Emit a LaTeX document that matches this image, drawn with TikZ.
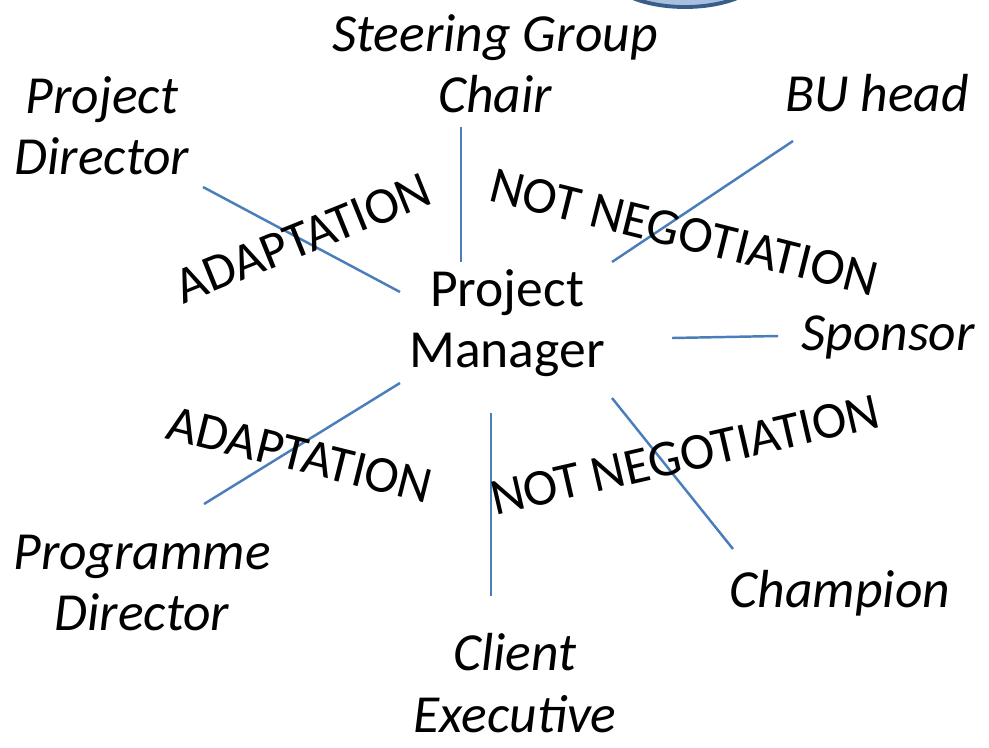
\documentclass[tikz,border=0pt]{standalone}
\usepackage{fontspec}
\setmainfont{Carlito}
\usepackage{tikz}

\definecolor{linkblue}{HTML}{4A7EBB}
\definecolor{ringblue}{HTML}{385D8A}
\definecolor{ringfill}{HTML}{A7C0E0}

\begin{document}
\begin{tikzpicture}[x=0.02cm, y=-0.02cm,
    role/.style={font=\fontsize{30.5}{35}\selectfont\itshape, align=center, inner sep=0pt},
    pm/.style={font=\fontsize{30.5}{35}\selectfont, align=center, inner sep=0pt},
    tag/.style={font=\fontsize{29.5}{34}\selectfont, inner sep=0pt},
    link/.style={linkblue, line width=1.4pt}]
            \useasboundingbox (0,0) rectangle (989,747);

            % Ring cut off at the top
            \begin{scope}
                \clip (0,0) rectangle (989,747);
                \filldraw[fill=ringfill, draw=ringblue, line width=2.2pt] (685,-30) ellipse (80 and 37);
            \end{scope}

            % Define line ends
            \coordinate (PD_1) at (203,187);
            \coordinate (PD_2) at (400,292);
            \coordinate (SG_1) at (461,127);
            \coordinate (SG_2) at (461,262);
            \coordinate (BU_1) at (793,141);
            \coordinate (BU_2) at (612,262);
            \coordinate (SP_1) at (778,336);
            \coordinate (SP_2) at (672,338);
            \coordinate (CH_1) at (733,549);
            \coordinate (CH_2) at (612,398);
            \coordinate (CE_1) at (491,596);
            \coordinate (CE_2) at (491,413);
            \coordinate (PG_1) at (204,504);
            \coordinate (PG_2) at (400,383);

            % Draw links
            \draw[link] (PD_1) -- (PD_2);
            \draw[link] (SG_1) -- (SG_2);
            \draw[link] (BU_1) -- (BU_2);
            \draw[link] (SP_1) -- (SP_2);
            \draw[link] (CH_1) -- (CH_2);
            \draw[link] (CE_1) -- (CE_2);
            \draw[link] (PG_1) -- (PG_2);

            % Add roles
            \node[pm] (PM) at (507,323) {Project\\Manager};
            \node[role] (SGC) at (495,64) {Steering Group\\Chair};
            \node[role] (PDir) at (102,126) {Project\\Director};
            \node[role] (BUH) at (877,93) {BU head};
            \node[role] (Spon) at (888,337) {Sponsor};
            \node[role] (Champ) at (840,593) {Champion};
            \node[role] (CEx) at (515,683) {Client\\Executive};
            \node[role] (PgD) at (142,583) {Programme\\Director};

            % Add relation tags
            \node[tag, rotate=22] (AD_1) at (303,238) {ADAPTATION};
            \node[tag, rotate=-14] (NN_1) at (684,232) {NOT NEGOTIATION};
            \node[tag, rotate=-14] (AD_2) at (300,455) {ADAPTATION};
            \node[tag, rotate=13] (NN_2) at (685,455) {NOT NEGOTIATION};
        \end{tikzpicture}
\end{document}
